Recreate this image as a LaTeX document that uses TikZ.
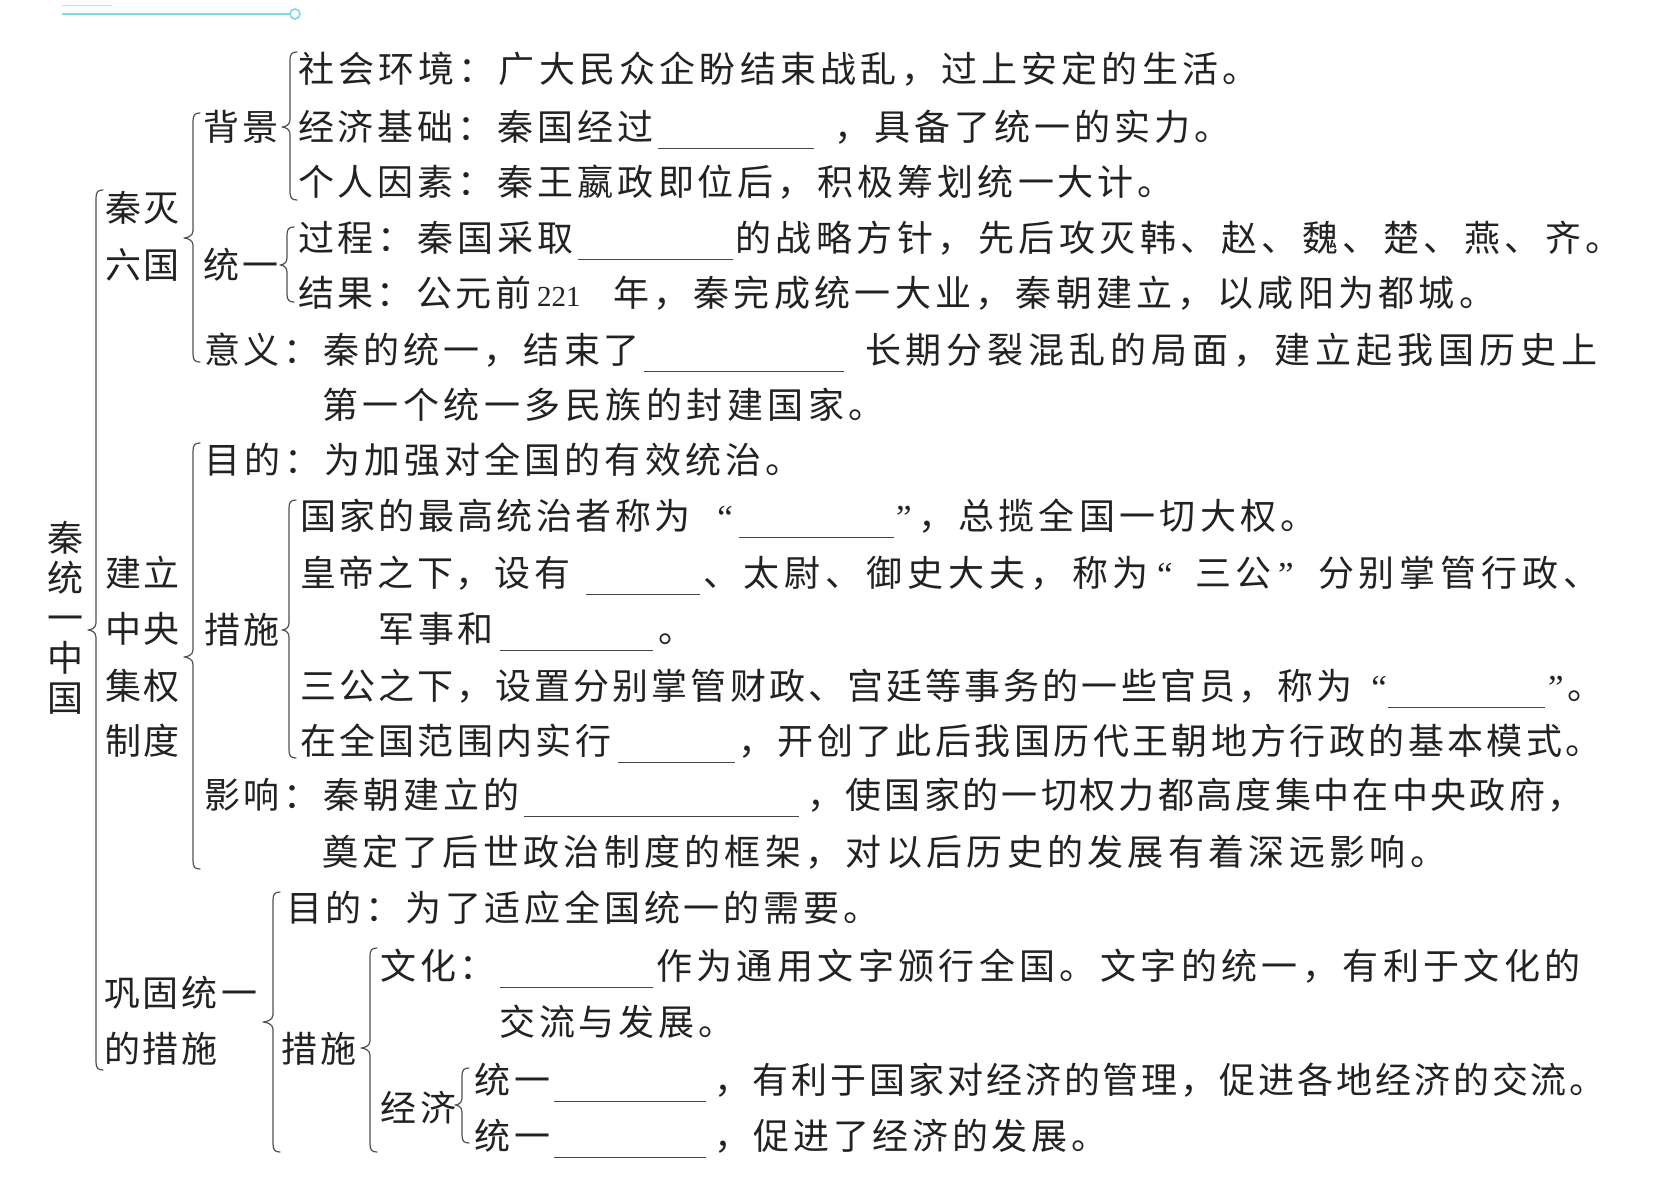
\documentclass[tikz,border=0pt]{standalone}
\usepackage{fontspec}
\newfontfamily\cjk{Noto Sans CJK SC}
\newfontfamily\latinf{Liberation Serif}
\definecolor{inkc}{RGB}{34,34,34}
\definecolor{bracec}{RGB}{80,80,80}
\definecolor{blankc}{RGB}{70,70,70}
\definecolor{cyanl}{RGB}{120,218,226}
\makeatletter
\newlength\cellw
\newcommand\cells[2][40pt]{\setlength\cellw{#1}\@tfor\cc:=#2\do{\makebox[\cellw][l]{\cc}}}
\makeatother
\newcommand\cjkfont{\cjk\fontsize{36pt}{40pt}\selectfont}
\newcommand\blank[1]{{\color{blankc}\rule[-8.5pt]{#1pt}{1.2pt}}}
\newcommand\qf{\latinf\fontsize{35pt}{40pt}\selectfont}
\newcommand\cbrace[5]{%
 \draw[brc] ({#1+7},#2) .. controls ({#1+2},#2) and (#1,{#2+2}) .. (#1,{#2+8})
   -- (#1,{#3-7}) .. controls (#1,{#3-2}) and ({#5+3},#3) .. (#5,#3)
   .. controls ({#5+3},#3) and (#1,{#3+2}) .. (#1,{#3+7})
   -- (#1,{#4-8}) .. controls (#1,{#4-2}) and ({#1+2},#4) .. ({#1+7},#4);}
\tikzset{
 txt/.style={anchor=base west, inner sep=0pt, outer sep=0pt, font=\cjkfont, text=inkc, yshift=-0.7pt},
 ttl/.style={anchor=base, inner sep=0pt, outer sep=0pt, font=\cjkfont, text=inkc, yshift=-0.7pt},
 brc/.style={draw=bracec, line width=1.2pt, line cap=round, line join=round},
 deco/.style={draw=cyanl, line width=1.6pt}
}
\begin{document}
\begin{tikzpicture}[x=1pt,y=-1pt]
\useasboundingbox[fill=white] (0,0) rectangle (1665,1192);
% decoration
\draw[deco] (62,14) -- (290,14);
\draw[deco] (295,14) circle (5);
\draw[deco, line width=0.8pt, draw=cyanl!60] (62,5) -- (112,5);
\draw[deco, line width=1.2pt, draw=cyanl!70] (97,0) arc (180:360:6);
% title
\node[ttl] (t1) at (65,551) {秦};
\node[ttl] (t2) at (65,591) {统};
\node[ttl] (t3) at (65,631) {一};
\node[ttl] (t4) at (65,671) {中};
\node[ttl] (t5) at (65,711) {国};
% level 1 labels
\node[txt] (qm1) at (105,221) {\cells[39pt]{秦灭}};
\node[txt] (qm2) at (105,278) {\cells[39pt]{六国}};
\node[txt] (jl1) at (105,586) {\cells[39pt]{建立}};
\node[txt] (jl2) at (105,642) {\cells[39pt]{中央}};
\node[txt] (jl3) at (105,699) {\cells[39pt]{集权}};
\node[txt] (jl4) at (105,754) {\cells[39pt]{制度}};
\node[txt] (gg1) at (104,1006) {\cells[39pt]{巩固统一}};
\node[txt] (gg2) at (104,1062) {\cells[39pt]{的措施}};
% level 2 labels
\node[txt] (bj) at (203,140) {\cells{背景}};
\node[txt] (ty) at (203,278) {\cells{统一}};
\node[txt] (cs1) at (204,643) {\cells{措施}};
\node[txt] (cs2) at (281,1062) {\cells{措施}};
\node[txt] (jj) at (380,1121) {\cells{经济}};
% rows
\node[txt] (r1) at (298,82) {\cells[40.2pt]{社会环境：广大民众企盼结束战乱，过上安定的生活。}};
\node[txt] (r2) at (298,140) {\cells{经济基础：秦国经过}\blank{156}\hspace{20pt}\cells[40.1pt]{，具备了统一的实力。}};
\node[txt] (r3) at (298,195) {\cells{个人因素：秦王嬴政即位后，积极筹划统一大计。}};
\node[txt] (r4) at (298,251) {\cells{过程：秦国采取}\blank{155}\hspace{2pt}\cells[40.5pt]{的战略方针，先后攻灭韩、赵、魏、楚、燕、齐。}};
\node[txt] (r5) at (298,306) {\cells[39.5pt]{结果：公元前}\makebox[78pt][l]{\hspace{2pt}{\latinf\fontsize{29pt}{34pt}\selectfont 221}}\cells[40.3pt]{年，秦完成统一大业，秦朝建立，以咸阳为都城。}};
\node[txt] (r6) at (204,363) {\cells{意义：秦的统一，结束了}\blank{200}\hspace{21pt}\cells[41pt]{长期分裂混乱的局面，建立起我国历史上}};
\node[txt] (r7) at (322,418) {\cells[40.5pt]{第一个统一多民族的封建国家。}};
\node[txt] (r8) at (204,473) {\cells[40.1pt]{目的：为加强对全国的有效统治。}};
\node[txt] (r9) at (300,529) {\cells[39.4pt]{国家的最高统治者称为}\makebox[45pt][r]{\qf “\kern6pt}\blank{155}\makebox[24pt][l]{\kern2pt\qf ”}\cells[40.3pt]{，总揽全国一切大权。}};
\node[txt] (r10) at (300,586) {\cells[39pt]{皇帝之下，设有}\hspace{13pt}\blank{114}\hspace{3pt}\cells[41pt]{、太尉、御史大夫，称为}\makebox[41pt][l]{\kern3pt\qf “}\cells[41pt]{三公}\makebox[41pt][l]{\kern1pt\qf ”}\cells[41pt]{分别掌管行政、}};
\node[txt] (r11) at (378,642) {\cells{军事和}\hspace{2pt}\blank{153}\hspace{5pt}\cells{。}};
\node[txt] (r12) at (300,699) {\cells[39.1pt]{三公之下，设置分别掌管财政、宫廷等事务的一些官员，称为}\makebox[32.3pt][r]{\qf “\kern1pt}\blank{157}\makebox[22pt][l]{\kern3pt\qf ”}\cells{。}};
\node[txt] (r13) at (300,754) {\cells[39.3pt]{在全国范围内实行}\hspace{4pt}\blank{117}\hspace{3pt}\cells[39.4pt]{，开创了此后我国历代王朝地方行政的基本模式。}};
\node[txt] (r14) at (204,808) {\cells{影响：秦朝建立的}\blank{275}\hspace{8pt}\cells[39pt]{，使国家的一切权力都高度集中在中央政府，}};
\node[txt] (r15) at (322,865) {\cells[40.3pt]{奠定了后世政治制度的框架，对以后历史的发展有着深远影响。}};
\node[txt] (r16) at (286,921) {\cells[39.8pt]{目的：为了适应全国统一的需要。}};
\node[txt] (r17) at (380,979) {\cells{文化：}\blank{153}\hspace{3pt}\cells[40.4pt]{作为通用文字颁行全国。文字的统一，有利于文化的}};
\node[txt] (r18) at (499,1035) {\cells{交流与发展。}};
\node[txt] (r19) at (474,1093) {\cells{统一}\blank{152}\hspace{8pt}\cells[38.9pt]{，有利于国家对经济的管理，促进各地经济的交流。}};
\node[txt] (r20) at (474,1149) {\cells{统一}\blank{152}\hspace{8pt}\cells[39.7pt]{，促进了经济的发展。}};
% braces
\cbrace{96}{190}{630}{1070}{88}
\cbrace{193}{113}{238}{362}{184}
\cbrace{193}{443}{657}{869}{184}
\cbrace{273}{892}{1022}{1152}{263}
\cbrace{290}{52}{127}{200}{282}
\cbrace{287}{227}{265}{302}{280}
\cbrace{289}{500}{630}{758}{282}
\cbrace{370}{948}{1048}{1152}{361}
\cbrace{462}{1068}{1105}{1143}{455}
\end{tikzpicture}
\end{document}
